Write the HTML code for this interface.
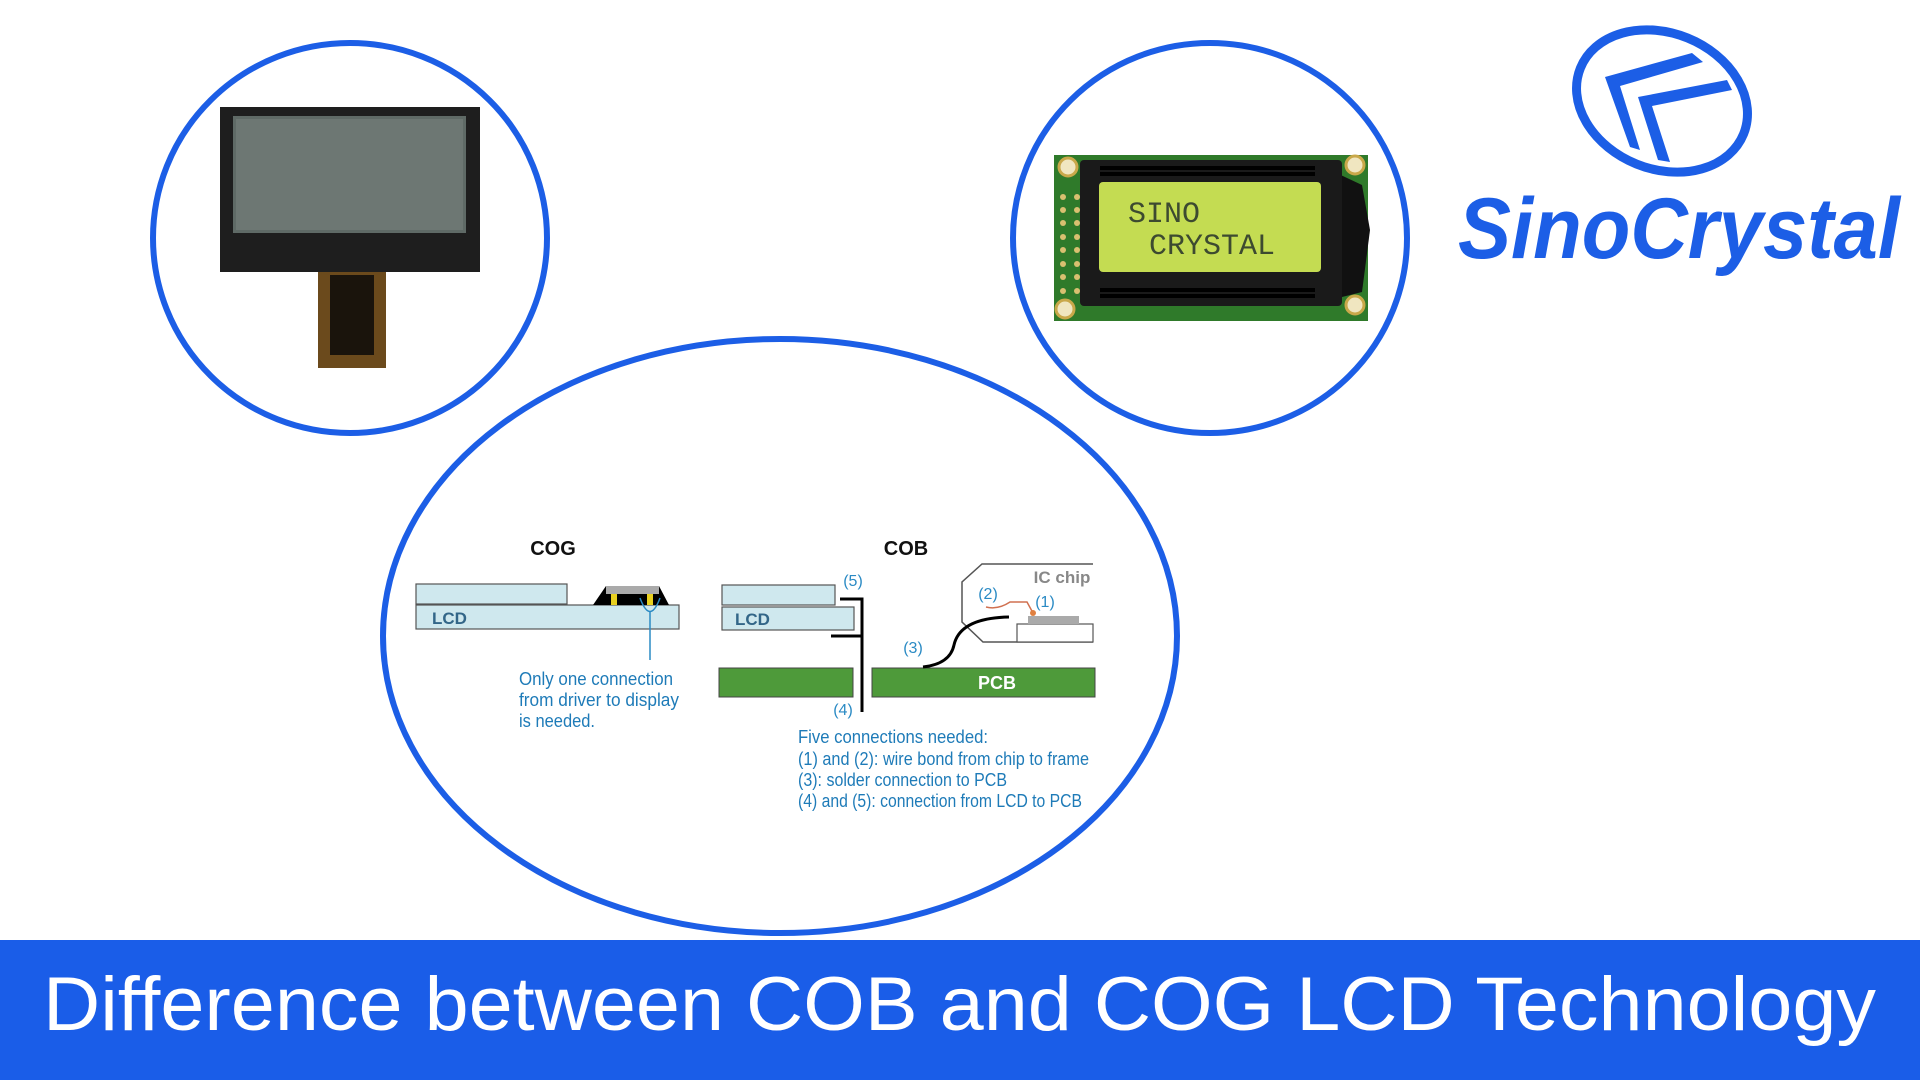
<!DOCTYPE html>
<html><head><meta charset="utf-8"><style>
html,body{margin:0;padding:0;background:#fff;width:1920px;height:1080px;overflow:hidden}
svg{display:block}
</style></head><body>
<svg width="1920" height="1080" viewBox="0 0 1920 1080" xmlns="http://www.w3.org/2000/svg" font-family="Liberation Sans, sans-serif">
<rect width="1920" height="1080" fill="#fff"/>
<!-- circles -->
<ellipse cx="350" cy="238" rx="197" ry="195" fill="none" stroke="#1c5ee6" stroke-width="6"/>
<ellipse cx="1210" cy="238" rx="197" ry="195" fill="none" stroke="#1c5ee6" stroke-width="6"/>
<ellipse cx="780" cy="636" rx="397" ry="297" fill="none" stroke="#1c5ee6" stroke-width="6"/>

<!-- left LCD -->
<rect x="318" y="268" width="68" height="100" fill="#6b4a1c"/>
<rect x="330" y="275" width="44" height="80" fill="#1a140c"/>
<rect x="220" y="107" width="260" height="165" fill="#1e1e1e"/>
<rect x="233" y="116" width="233" height="117" fill="#5f6a66"/>
<rect x="236" y="119" width="227" height="111" fill="#6d7773"/>

<!-- right LCD -->
<rect x="1054" y="155" width="314" height="166" fill="#2f7a2a"/>
<circle cx="1068" cy="167" r="9" fill="#f0e6c0" stroke="#c9a84a" stroke-width="3"/>
<circle cx="1355" cy="165" r="9" fill="#f0e6c0" stroke="#c9a84a" stroke-width="3"/>
<circle cx="1065" cy="309" r="9" fill="#f0e6c0" stroke="#c9a84a" stroke-width="3"/>
<circle cx="1355" cy="305" r="9" fill="#f0e6c0" stroke="#c9a84a" stroke-width="3"/>
<g fill="#d9c070">
<circle cx="1063" cy="197" r="3"/><circle cx="1077" cy="197" r="3"/>
<circle cx="1063" cy="210" r="3"/><circle cx="1077" cy="210" r="3"/>
<circle cx="1063" cy="223" r="3"/><circle cx="1077" cy="223" r="3"/>
<circle cx="1063" cy="237" r="3"/><circle cx="1077" cy="237" r="3"/>
<circle cx="1063" cy="250" r="3"/><circle cx="1077" cy="250" r="3"/>
<circle cx="1063" cy="264" r="3"/><circle cx="1077" cy="264" r="3"/>
<circle cx="1063" cy="277" r="3"/><circle cx="1077" cy="277" r="3"/>
<circle cx="1063" cy="291" r="3"/><circle cx="1077" cy="291" r="3"/>
</g>
<path d="M1330 170 L1362 185 L1370 230 L1362 292 L1330 300 Z" fill="#111"/>
<rect x="1080" y="160" width="262" height="146" rx="4" fill="#1a1a1a"/>
<rect x="1100" y="166" width="215" height="4" fill="#000"/>
<rect x="1100" y="172" width="215" height="4" fill="#000"/>
<rect x="1100" y="288" width="215" height="4" fill="#000"/>
<rect x="1100" y="294" width="215" height="4" fill="#000"/>
<rect x="1099" y="182" width="222" height="90" rx="4" fill="#c4dc52"/>
<text x="1128" y="222" font-family="Liberation Mono, monospace" font-size="30" fill="#3d4a30">SINO</text>
<text x="1149" y="254" font-family="Liberation Mono, monospace" font-size="30" fill="#3d4a30">CRYSTAL</text>

<!-- logo -->
<g transform="translate(1662,101) rotate(22)">
<ellipse cx="0" cy="0" rx="88" ry="68" fill="none" stroke="#1c5ee6" stroke-width="9"/>
</g>
<path d="M1605 77 L1692 53 L1703 62 L1620 86 L1640 150 L1630 147 Z" fill="#1c5ee6"/>
<path d="M1638 97 L1727 80 L1732 90 L1652 106 L1670 162 L1658 160 Z" fill="#1c5ee6"/>
<text x="1458" y="258" font-size="86" font-weight="bold" font-style="italic" fill="#1c5ee6" textLength="442" lengthAdjust="spacingAndGlyphs">SinoCrystal</text>

<!-- COG diagram -->
<text x="553" y="555" font-size="20" font-weight="bold" fill="#111" text-anchor="middle">COG</text>
<rect x="416" y="584" width="151" height="20" fill="#cfe8ee" stroke="#555" stroke-width="1.2"/>
<rect x="416" y="605" width="263" height="24" fill="#cfe8ee" stroke="#555" stroke-width="1.2"/>
<path d="M593 605 L606 586 L659 586 L669 605 Z" fill="#000"/>
<rect x="606" y="586" width="53" height="8" fill="#aaa"/>
<rect x="611" y="594" width="6" height="11" fill="#e8d020"/>
<rect x="647" y="594" width="6" height="11" fill="#e8d020"/>
<path d="M640 598 Q650 625 660 598" fill="none" stroke="#2a8ac4" stroke-width="1.5"/>
<line x1="650" y1="612" x2="650" y2="660" stroke="#2a8ac4" stroke-width="1.5"/>
<text x="432" y="624" font-size="17" font-weight="bold" fill="#336688">LCD</text>
<g font-size="18" fill="#1e7bb8">
<text x="519" y="685" textLength="154" lengthAdjust="spacingAndGlyphs">Only one connection</text>
<text x="519" y="706" textLength="160" lengthAdjust="spacingAndGlyphs">from driver to display</text>
<text x="519" y="727" textLength="76" lengthAdjust="spacingAndGlyphs">is needed.</text>
</g>

<!-- COB diagram -->
<text x="906" y="555" font-size="20" font-weight="bold" fill="#111" text-anchor="middle">COB</text>
<rect x="722" y="585" width="113" height="20" fill="#cfe8ee" stroke="#555" stroke-width="1.2"/>
<rect x="722" y="607" width="132" height="23" fill="#cfe8ee" stroke="#555" stroke-width="1.2"/>
<text x="735" y="625" font-size="17" font-weight="bold" fill="#336688">LCD</text>
<rect x="719" y="668" width="134" height="29" fill="#4e9a3a" stroke="#444" stroke-width="1"/>
<rect x="872" y="668" width="223" height="29" fill="#4e9a3a" stroke="#444" stroke-width="1"/>
<text x="997" y="689" font-size="18" font-weight="bold" fill="#fff" text-anchor="middle">PCB</text>
<path d="M840 599 L862 599 L862 712 M831 636 L862 636" fill="none" stroke="#000" stroke-width="3"/>
<path d="M1093 564 L982 564 L962 582 L962 622 L983 642 L1093 642" fill="none" stroke="#555" stroke-width="1.5"/>
<rect x="1017" y="624" width="76" height="18" fill="#fff" stroke="#555" stroke-width="1.2"/>
<rect x="1028" y="616" width="51" height="8" fill="#aaa"/>
<path d="M923 667 Q950 664 954 645 Q960 618 1009 617" fill="none" stroke="#000" stroke-width="3"/>
<path d="M986 607 Q998 610 1010 602 L1027 602 L1033 613" fill="none" stroke="#d07050" stroke-width="1.5"/>
<circle cx="1033" cy="613" r="3" fill="#e08040"/>
<text x="1062" y="583" font-size="17" font-weight="bold" fill="#888" text-anchor="middle">IC chip</text>
<g font-size="16" fill="#2a8ac4" text-anchor="middle">
<text x="853" y="586">(5)</text>
<text x="988" y="599">(2)</text>
<text x="1045" y="607">(1)</text>
<text x="913" y="653">(3)</text>
<text x="843" y="715">(4)</text>
</g>
<g font-size="18" fill="#1e7bb8">
<text x="798" y="743" textLength="190" lengthAdjust="spacingAndGlyphs">Five connections needed:</text>
<text x="798" y="765" textLength="291" lengthAdjust="spacingAndGlyphs">(1) and (2): wire bond from chip to frame</text>
<text x="798" y="786" textLength="209" lengthAdjust="spacingAndGlyphs">(3): solder connection to PCB</text>
<text x="798" y="807" textLength="284" lengthAdjust="spacingAndGlyphs">(4) and (5): connection from LCD to PCB</text>
</g>

<!-- banner -->
<rect x="0" y="940" width="1920" height="140" fill="#1a5de8"/>
<text x="43" y="1030" font-size="76" fill="#fff" textLength="1833" lengthAdjust="spacingAndGlyphs">Difference between COB and COG LCD Technology</text>
</svg>
</body></html>
